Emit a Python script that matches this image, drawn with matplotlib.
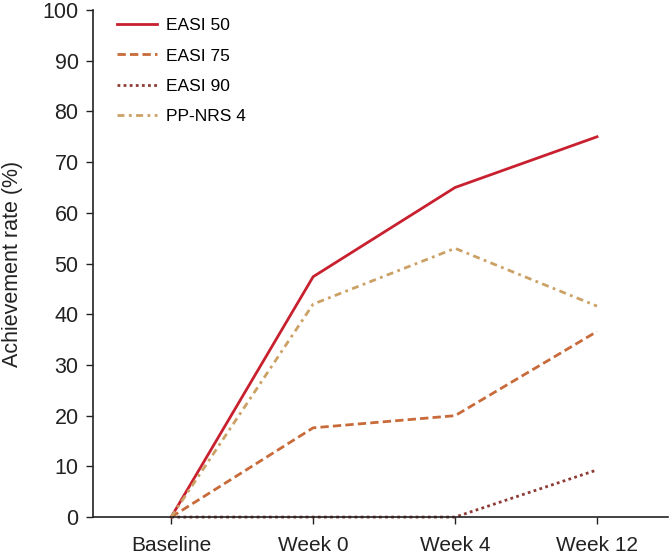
import matplotlib.pyplot as plt
import numpy as np

# achievement rates
weeks = ["Baseline", "Week 0", "Week 4", "Week 12"]
easi50 = [0, 47.4, 65.0, 75.0]
easi75 = [0, 17.6, 20.0, 36.6]
easi90 = [0, 0, 0, 9.3]
ppnrs4 = [0, 42.0, 53.0, 41.6]

plt.rcParams['font.family'] = ['Liberation Sans', 'DejaVu Sans']

fig = plt.figure(figsize=(6.7, 5.56), dpi=100)
ax = fig.add_axes([0.139, 0.070, 0.858, 0.912])

x = np.arange(len(weeks))
ax.plot(x, easi50, color='#c8202f', lw=2.0, label='EASI 50', clip_on=False)
ax.plot(x, easi75, color='#c96a3a', lw=2.0, ls=(0, (3, 1.5)), label='EASI 75', clip_on=False)
ax.plot(x, easi90, color='#8e3b36', lw=2.0, ls=(0, (1, 1.2)), label='EASI 90', clip_on=False)
ax.plot(x, ppnrs4, color='#cba165', lw=2.0, ls=(0, (2.5, 1.6, 1, 1.6)), label='PP-NRS 4', clip_on=False)

ax.set_xlim(-0.55, 3.5)
ax.set_ylim(0, 100)
ax.set_xticks(x)
ax.set_xticklabels(weeks)
ax.set_yticks(range(0, 101, 10))
ax.tick_params(axis='both', labelsize=15, length=5, width=1, color='#222222', labelcolor='#222222')
ax.tick_params(axis='x', pad=8.5)
ax.tick_params(axis='y', labelsize=15.5, pad=5.5)
ax.set_ylabel('Achievement rate (%)', fontsize=15.5, color='#222222')
ax.yaxis.set_label_coords(-0.122, 0.5)

for side in ['top', 'right']:
    ax.spines[side].set_visible(False)
for side in ['left', 'bottom']:
    ax.spines[side].set_color('#222222')
    ax.spines[side].set_linewidth(1.2)

leg = ax.legend(loc='upper left', bbox_to_anchor=(0.042, 0.984), frameon=False, fontsize=12.5,
                handlelength=2.3, labelspacing=0.87, handletextpad=0.5,
                borderpad=0, borderaxespad=0)

fig.savefig('out.png', dpi=100)
